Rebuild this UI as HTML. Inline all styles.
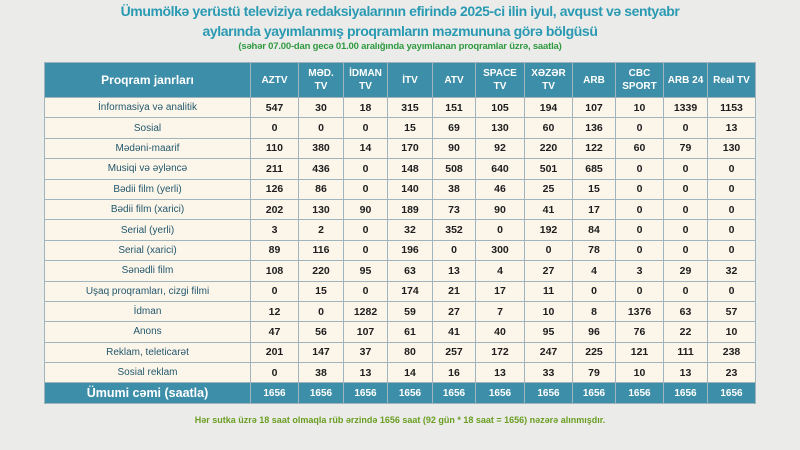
<!DOCTYPE html>
<html><head><meta charset="utf-8"><style>
body{margin:0;width:800px;height:450px;background:#ebebea;font-family:"Liberation Sans",sans-serif;overflow:hidden;position:relative}
.t1{position:absolute;top:1px;left:0;width:800px;text-align:center;color:#2a9ab2;font-size:14px;font-weight:bold;line-height:20px;letter-spacing:-0.4px}
.t2{position:absolute;top:41px;width:800px;text-align:center;color:#2f9a3f;font-size:9.5px;font-weight:bold;letter-spacing:-0.2px}
table{position:absolute;left:44px;top:62px;border-collapse:collapse;table-layout:fixed;width:711px}
td,th{border:1px solid #9fb4bd;text-align:center;padding:0;font-size:10px}
th{background:#3d8ea9;color:#fff;height:34px;line-height:13px;font-weight:bold;font-size:10px}
td{background:#fcf5ea;height:19.4px;color:#1e1e1e;font-weight:bold;font-size:10.5px}
td.l{color:#23586c;font-weight:normal;font-size:10px}
tr.tot td{background:#3d8ea9;color:#fff;height:20px;font-size:10px}
tr.tot td.l{color:#fff;font-size:12.5px;font-weight:bold}
th.l{font-size:12px}
.f{position:absolute;top:415px;width:800px;text-align:center;color:#6a9e22;font-size:9px;font-weight:bold}
</style></head><body>
<div class="t1">Ümumölkə yerüstü televiziya redaksiyalarının efirində 2025-ci ilin iyul, avqust və sentyabr<br>aylarında yayımlanmış proqramların məzmununa görə bölgüsü</div>
<div class="t2">(səhər 07.00-dan gecə 01.00 aralığında yayımlanan proqramlar üzrə, saatla)</div>
<table>
<colgroup><col style="width:206px"><col style="width:48px"><col style="width:45px"><col style="width:44px"><col style="width:45px"><col style="width:43px"><col style="width:49px"><col style="width:48px"><col style="width:43px"><col style="width:48px"><col style="width:44px"><col style="width:48px"></colgroup>
<tr><th class="l">Proqram janrları</th><th>AZTV</th><th>MƏD.<br>TV</th><th>İDMAN<br>TV</th><th>İTV</th><th>ATV</th><th>SPACE<br>TV</th><th>XƏZƏR<br>TV</th><th>ARB</th><th>CBC<br>SPORT</th><th>ARB 24</th><th>Real TV</th></tr>
<tr><td class="l">İnformasiya və analitik</td><td>547</td><td>30</td><td>18</td><td>315</td><td>151</td><td>105</td><td>194</td><td>107</td><td>10</td><td>1339</td><td>1153</td></tr>
<tr><td class="l">Sosial</td><td>0</td><td>0</td><td>0</td><td>15</td><td>69</td><td>130</td><td>60</td><td>136</td><td>0</td><td>0</td><td>13</td></tr>
<tr><td class="l">Mədəni-maarif</td><td>110</td><td>380</td><td>14</td><td>170</td><td>90</td><td>92</td><td>220</td><td>122</td><td>60</td><td>79</td><td>130</td></tr>
<tr><td class="l">Musiqi və əyləncə</td><td>211</td><td>436</td><td>0</td><td>148</td><td>508</td><td>640</td><td>501</td><td>685</td><td>0</td><td>0</td><td>0</td></tr>
<tr><td class="l">Bədii film (yerli)</td><td>126</td><td>86</td><td>0</td><td>140</td><td>38</td><td>46</td><td>25</td><td>15</td><td>0</td><td>0</td><td>0</td></tr>
<tr><td class="l">Bədii film (xarici)</td><td>202</td><td>130</td><td>90</td><td>189</td><td>73</td><td>90</td><td>41</td><td>17</td><td>0</td><td>0</td><td>0</td></tr>
<tr><td class="l">Serial (yerli)</td><td>3</td><td>2</td><td>0</td><td>32</td><td>352</td><td>0</td><td>192</td><td>84</td><td>0</td><td>0</td><td>0</td></tr>
<tr><td class="l">Serial (xarici)</td><td>89</td><td>116</td><td>0</td><td>196</td><td>0</td><td>300</td><td>0</td><td>78</td><td>0</td><td>0</td><td>0</td></tr>
<tr><td class="l">Sənədli film</td><td>108</td><td>220</td><td>95</td><td>63</td><td>13</td><td>4</td><td>27</td><td>4</td><td>3</td><td>29</td><td>32</td></tr>
<tr><td class="l">Uşaq proqramları, cizgi filmi</td><td>0</td><td>15</td><td>0</td><td>174</td><td>21</td><td>17</td><td>11</td><td>0</td><td>0</td><td>0</td><td>0</td></tr>
<tr><td class="l">İdman</td><td>12</td><td>0</td><td>1282</td><td>59</td><td>27</td><td>7</td><td>10</td><td>8</td><td>1376</td><td>63</td><td>57</td></tr>
<tr><td class="l">Anons</td><td>47</td><td>56</td><td>107</td><td>61</td><td>41</td><td>40</td><td>95</td><td>96</td><td>76</td><td>22</td><td>10</td></tr>
<tr><td class="l">Reklam, teleticarət</td><td>201</td><td>147</td><td>37</td><td>80</td><td>257</td><td>172</td><td>247</td><td>225</td><td>121</td><td>111</td><td>238</td></tr>
<tr><td class="l">Sosial reklam</td><td>0</td><td>38</td><td>13</td><td>14</td><td>16</td><td>13</td><td>33</td><td>79</td><td>10</td><td>13</td><td>23</td></tr>
<tr class="tot"><td class="l">Ümumi cəmi (saatla)</td><td>1656</td><td>1656</td><td>1656</td><td>1656</td><td>1656</td><td>1656</td><td>1656</td><td>1656</td><td>1656</td><td>1656</td><td>1656</td></tr>
</table>
<div class="f">Hər sutka üzrə 18 saat olmaqla rüb ərzində 1656 saat (92 gün * 18 saat = 1656) nəzərə alınmışdır.</div>
</body></html>
